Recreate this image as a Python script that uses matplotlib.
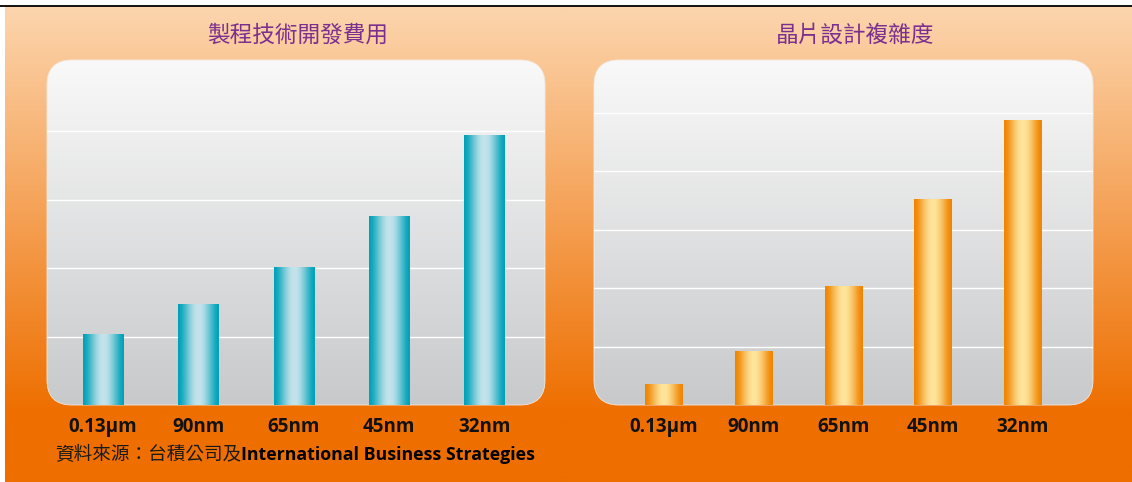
import numpy as np
import matplotlib
matplotlib.use("Agg")
import matplotlib.pyplot as plt
from matplotlib.patches import FancyBboxPatch
from matplotlib.colors import to_rgb

# ---------------- data ----------------
categories = ["0.13µm", "90nm", "65nm", "45nm", "32nm"]
dev_cost = [1.03, 1.47, 2.02, 2.76, 3.94]          # 製程技術開發費用 (relative)
design_complexity = [0.36, 0.92, 2.03, 3.52, 4.88]  # 晶片設計複雜度 (relative)
title_left = "製程技術開發費用"
title_right = "晶片設計複雜度"
source_cjk = "資料來源：台積公司及"
source_en = "International Business Strategies"

W, H = 1132, 482
fig = plt.figure(figsize=(W / 100, H / 100), dpi=100)
fig.patch.set_facecolor("white")

# background axes in pixel coordinates
bg = fig.add_axes([0, 0, 1, 1])
bg.set_xlim(0, W)
bg.set_ylim(H, 0)
bg.axis("off")


def vgrad(c_top, c_bot, n=256):
    t = np.linspace(0, 1, n)
    a = np.array(to_rgb(c_top))
    b = np.array(to_rgb(c_bot))
    arr = a[None, :] * (1 - t[:, None]) + b[None, :] * t[:, None]
    return arr[:, None, :]


# orange page gradient (linear until ~y=410, then solid)
n = 482
ys = np.arange(n)
t = np.clip((ys - 6) / (410 - 6), 0, 1)
c0 = np.array(to_rgb("#FCD4AC"))
c1 = np.array(to_rgb("#EE6F00"))
page = (c0[None, :] * (1 - t[:, None]) + c1[None, :] * t[:, None])[:, None, :]
bg.imshow(page, extent=(5, W, H, 6), aspect="auto", zorder=0, interpolation="bilinear")
bg.plot([0, W], [5.5, 5.5], color="black", lw=1.3, zorder=1)

# rounded panels
boxes = [(47, 60, 498, 345), (594, 60, 499, 345)]
for (bx, by, bw, bh) in boxes:
    p = FancyBboxPatch((bx, by), bw, bh, boxstyle="round,pad=0,rounding_size=25",
                       facecolor="none", edgecolor="#F3E9E0", lw=0.6, zorder=3)
    bg.add_patch(p)
    im = bg.imshow(vgrad("#F9F9F9", "#C8C9CB"), extent=(bx, bx + bw, by + bh, by),
                   aspect="auto", zorder=2, interpolation="bilinear")
    im.set_clip_path(p)
bg.set_xlim(0, W)
bg.set_ylim(H, 0)

# titles
title_kw = dict(fontsize=16.3, color="#7B2F8F", ha="center", va="center",
                family=["Noto Sans CJK TC", "DejaVu Sans"], zorder=5)
bg.text(298, 35, title_left, **title_kw)
bg.text(855, 35, title_right, **title_kw)

# source line
t1 = bg.text(55, 455, source_cjk, fontsize=13.4, color="#1A1A1A", ha="left", va="center",
             family=["Noto Sans CJK TC", "DejaVu Sans"], zorder=5)
bg.annotate(source_en, xy=(1, 0.5), xycoords=t1, ha="left", va="center",
            fontsize=12.8, fontweight="bold", color="black",
            family=["Open Sans", "DejaVu Sans"], zorder=5)


def fig_rect(px, py, pw, ph):
    return [px / W, 1 - (py + ph) / H, pw / W, ph / H]


def grad_bars(ax, bars, edge, center):
    x = np.linspace(0, 1, 256)
    m = np.sin(np.pi * x) ** 1.6
    e = np.array(to_rgb(edge))
    c = np.array(to_rgb(center))
    arr = (e[None, :] * (1 - m[:, None]) + c[None, :] * m[:, None])[None, :, :]
    for b in bars:
        bx, by = b.get_xy()
        im = ax.imshow(arr, extent=(bx, bx + b.get_width(), by, by + b.get_height()),
                       aspect="auto", zorder=3, interpolation="bilinear")
        im.set_clip_path(b)


panels = [
    (boxes[0], dev_cost, (-0.587, 4.634), (0, 5.04), [1, 2, 3, 4], "#00A2B9", "#C4E3EB"),
    (boxes[1], design_complexity, (-0.78, 4.78), (0, 5.9), [1, 2, 3, 4, 5], "#F08400", "#FFE59C"),
]
pos = np.arange(len(categories))
for (bx, by, bw, bh), vals, xl, yl, yt, ce, cc in panels:
    ax = fig.add_axes(fig_rect(bx, by, bw, bh))
    ax.patch.set_alpha(0)
    ax.set_zorder(2)
    bars = ax.bar(pos, vals, width=0.42, color=ce, zorder=2, linewidth=0)
    grad_bars(ax, bars, ce, cc)
    ax.set_xlim(*xl)
    ax.set_ylim(*yl)
    ax.set_yticks(yt)
    ax.yaxis.grid(True, color="white", lw=1.0, zorder=1)
    ax.set_axisbelow(True)
    ax.tick_params(axis="both", length=0)
    ax.set_yticklabels([])
    ax.set_xticks(pos)
    ax.set_xticklabels(categories, fontsize=13.5, fontweight="bold",
                       family=["Open Sans", "DejaVu Sans"], color="#111111")
    ax.tick_params(axis="x", pad=8.5)
    for s in ax.spines.values():
        s.set_visible(False)

fig.savefig("out.png", dpi=100, facecolor=fig.get_facecolor())
